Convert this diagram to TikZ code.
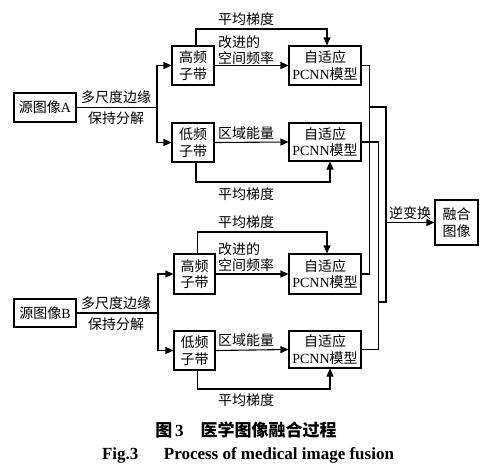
\documentclass[tikz,border=0pt]{standalone}
\usepackage{fontspec}
\setmainfont{Liberation Serif}
\newfontfamily\cjk{Noto Sans CJK SC}
\usetikzlibrary{arrows.meta,calc}
\begin{document}
\begin{tikzpicture}[x=1pt,y=-1pt,
  box/.style={draw,line width=1.1pt,inner sep=0pt,align=center,font=\fontsize{14}{16.5}\selectfont},
  lab/.style={inner sep=0pt,font=\fontsize{14}{16.5}\selectfont\cjk},
  ln/.style={line width=1.1pt},
  arr/.style={line width=1.1pt,-{Triangle[length=8pt,width=7pt]}}]
\useasboundingbox (0,0) rectangle (500,474);
% boxes
\node[box,minimum width=62pt,minimum height=29pt] (srcA) at (45,107.5) {{\cjk 源图像}A};
\node[box,minimum width=42pt,minimum height=39pt] (hiA) at (193,65.5) {\cjk 高频\\\cjk 子带};
\node[box,minimum width=42pt,minimum height=39pt] (loA) at (193,142.5) {\cjk 低频\\\cjk 子带};
\node[box,minimum width=72pt,minimum height=39pt] (pA1) at (325,65.5) {\cjk 自适应\\PCNN{\cjk 模型}};
\node[box,minimum width=72pt,minimum height=38pt] (pA2) at (325,142) {\cjk 自适应\\PCNN{\cjk 模型}};
\node[box,minimum width=62pt,minimum height=28pt] (srcB) at (45,313) {{\cjk 源图像}B};
\node[box,minimum width=41pt,minimum height=40pt] (hiB) at (194.5,274) {\cjk 高频\\\cjk 子带};
\node[box,minimum width=41pt,minimum height=39pt] (loB) at (194.5,350.5) {\cjk 低频\\\cjk 子带};
\node[box,minimum width=72pt,minimum height=40pt] (pB1) at (325,274) {\cjk 自适应\\PCNN{\cjk 模型}};
\node[box,minimum width=72pt,minimum height=37pt] (pB2) at (325,349.5) {\cjk 自适应\\PCNN{\cjk 模型}};
\node[box,minimum width=43pt,minimum height=45pt] (fuse) at (456.5,222.5) {\cjk 融合\\\cjk 图像};
% branch A
\coordinate (bA) at (157,107.5);
\draw[ln] (srcA.east) -- (bA);
\draw[arr] (bA) |- (hiA.west);
\draw[arr] (bA) |- (loA.west);
\node[lab] (dA1) at (116,97) {多尺度边缘};
\node[lab] (dA2) at (116,118) {保持分解};
% branch B
\coordinate (bB) at (158,313);
\draw[ln] (srcB.east) -- (bB);
\draw[arr] (bB) |- (hiB.west);
\draw[arr] (bB) |- (loB.west);
\node[lab] (dB1) at (116,303) {多尺度边缘};
\node[lab] (dB2) at (116,324) {保持分解};
% A high
\coordinate (gA1) at (327,29);
\draw[arr] ([xshift=3pt]hiA.north) |- (gA1) -- (gA1 |- pA1.north);
\node[lab] (tA1) at (246,19) {平均梯度};
\draw[arr] (hiA.east) -- (pA1.west);
\node[lab,align=left,anchor=south west] (sA1) at (218,65) {改进的\\空间频率};
% A low
\draw[arr] (loA.east) -- (pA2.west);
\node[lab] (rA) at (246,133) {区域能量};
\coordinate (gA2) at (330,182);
\draw[arr] ([xshift=3pt]loA.south) |- (gA2) -- (gA2 |- pA2.south);
\node[lab] (tA2) at (246,194) {平均梯度};
% B high
\coordinate (gB1) at (327,232);
\draw[arr] ([xshift=3pt]hiB.north) |- (gB1) -- (gB1 |- pB1.north);
\node[lab] (tB1) at (246,222) {平均梯度};
\draw[arr] (hiB.east) -- (pB1.west);
\node[lab,align=left,anchor=south west] (sB1) at (218,272) {改进的\\空间频率};
% B low
\draw[arr] (loB.east) -- (pB2.west);
\node[lab] (rB) at (246,340) {区域能量};
\coordinate (gB2) at (330,389);
\draw[arr] ([xshift=3pt]loB.south) |- (gB2) -- (gB2 |- pB2.south);
\node[lab] (tB2) at (246,400) {平均梯度};
% outputs
\draw[ln] (pA1.east) -- ++(8,0) |- (pB1.east);
\draw[ln] (pA2.east) -- ++(17,0) |- (pB2.east);
\coordinate (j1) at (369,107);
\coordinate (j2) at (386,107);
\coordinate (j3) at (386,302);
\coordinate (j4) at (378,302);
\draw[ln] (j1) -- (j2) -- (j3) -- (j4);
\coordinate (j5) at (386,222.5);
\draw[arr] (j5) -- (fuse.west);
\node[lab] (inv) at (410,213) {逆变换};
% captions
\node[inner sep=0pt,font=\fontsize{17}{19}\selectfont\bfseries] (cap1) at (246,430) {{\cjk\bfseries 图}\,3\quad{\cjk\bfseries 医学图像融合过程}};
\node[inner sep=0pt,font=\fontsize{17}{19}\selectfont\bfseries] (cap2) at (248,455) {Fig.3\quad\ \ Process of medical image fusion};
\end{tikzpicture}
\end{document}
